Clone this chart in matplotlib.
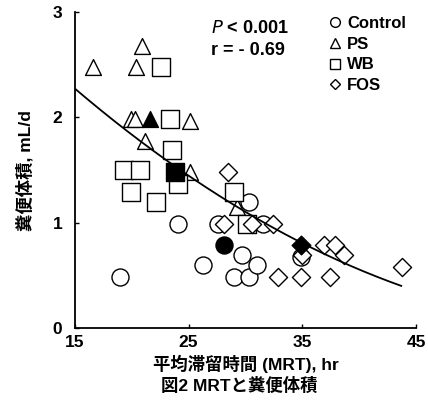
import numpy as np
import matplotlib
matplotlib.use("Agg")
import matplotlib.pyplot as plt
from matplotlib.lines import Line2D

plt.rcParams['font.family'] = ['Liberation Sans', 'Noto Sans CJK JP', 'DejaVu Sans']

# open markers
control_x = [19.0, 24.1, 26.3, 27.6, 30.3, 31.5, 29.7, 29.0, 30.3, 31.0, 34.9]
control_y = [0.49, 0.99, 0.60, 0.99, 1.20, 0.99, 0.69, 0.49, 0.49, 0.60, 0.68]
ps_x = [16.6, 20.9, 20.4, 19.9, 20.3, 25.1, 21.2, 25.1, 29.3]
ps_y = [2.48, 2.68, 2.48, 1.99, 1.99, 1.97, 1.78, 1.48, 1.15]
wb_x = [22.6, 23.4, 23.5, 19.3, 20.7, 19.9, 22.1, 24.1, 29.0, 30.1]
wb_y = [2.48, 1.99, 1.69, 1.50, 1.50, 1.29, 1.20, 1.37, 1.29, 0.99]
fos_x = [28.5, 28.1, 32.4, 30.6, 36.9, 37.9, 38.7, 32.9, 34.9, 37.4, 43.8, 35.0]
fos_y = [1.48, 0.99, 0.99, 0.99, 0.79, 0.79, 0.69, 0.49, 0.49, 0.49, 0.58, 0.69]

# group means (filled markers)
mean_x = [28.1, 21.6, 23.8, 34.9]
mean_y = [0.79, 1.99, 1.48, 0.79]

# trend line, points
curve_x = [15, 20, 25, 30, 35, 43.7]
curve_y = [2.26, 1.85, 1.47, 1.09, 0.79, 0.41]

fig = plt.figure(figsize=(4.28, 4.18), dpi=100)
ax = fig.add_axes([0.175, 0.215, 0.797, 0.756])

kw = dict(facecolor='white', edgecolor='black', linewidths=1.0, zorder=3)
ax.scatter(control_x, control_y, marker='o', s=150, **kw)
ax.scatter(ps_x, ps_y, marker='^', s=130, **kw)
ax.scatter(wb_x, wb_y, marker='s', s=150, **kw)
ax.scatter(fos_x, fos_y, marker='D', s=85, **kw)

markers = ['o', '^', 's', 'D']
sizes = [150, 130, 180, 90]
for mx, my, m, sz in zip(mean_x, mean_y, markers, sizes):
    ax.scatter([mx], [my], marker=m, s=sz, facecolor='black',
               edgecolor='black', zorder=4)

coef = np.polyfit(curve_x, curve_y, 2)
xs = np.linspace(curve_x[0], curve_x[-1], 200)
ax.plot(xs, np.polyval(coef, xs), color='black', lw=1.3, zorder=5)

ax.set_xlim(15, 45)
ax.set_ylim(0, 3)
ax.set_xticks([15, 25, 35, 45])
ax.set_yticks([0, 1, 2, 3])
ax.spines['top'].set_visible(False)
ax.spines['right'].set_visible(False)
ax.spines['left'].set_linewidth(1.3)
ax.spines['bottom'].set_linewidth(1.3)
ax.tick_params(direction='in', length=3, width=1, labelsize=12.5)
ax.tick_params(axis='x', pad=5)
ax.tick_params(axis='y', pad=9)
for lab in ax.get_xticklabels() + ax.get_yticklabels():
    lab.set_fontweight('bold')

ax.set_xlabel('平均滞留時間 (MRT), hr', fontsize=12.5, fontweight='bold', labelpad=3)
ax.set_ylabel('糞便体積, mL/d', fontsize=12.5, fontweight='bold', labelpad=14)
fig.text(0.56, 0.065, '図2 MRTと糞便体積', ha='center', fontsize=12.5, fontweight='bold')

ax.text(0.40, 0.975, '$\\mathbf{\\it{P}}$ < 0.001', transform=ax.transAxes,
        fontsize=13, va='top', fontweight='bold')
ax.text(0.40, 0.905, 'r = - 0.69', transform=ax.transAxes, fontsize=13,
        va='top', fontweight='bold')

handles = [Line2D([], [], marker=m, ls='none', mfc='white', mec='black', ms=7)
           for m in ['o', '^', 's', 'D']]
handles[3].set_markersize(5.5)
leg = ax.legend(handles, ['Control', 'PS', 'WB', 'FOS'], loc='upper right',
                bbox_to_anchor=(1.0, 1.02), frameon=False,
                prop={'size': 12, 'weight': 'bold'},
                handletextpad=0.1, labelspacing=0.35, borderaxespad=0.2,
                handlelength=1.2)

fig.savefig('out.png', dpi=100)
